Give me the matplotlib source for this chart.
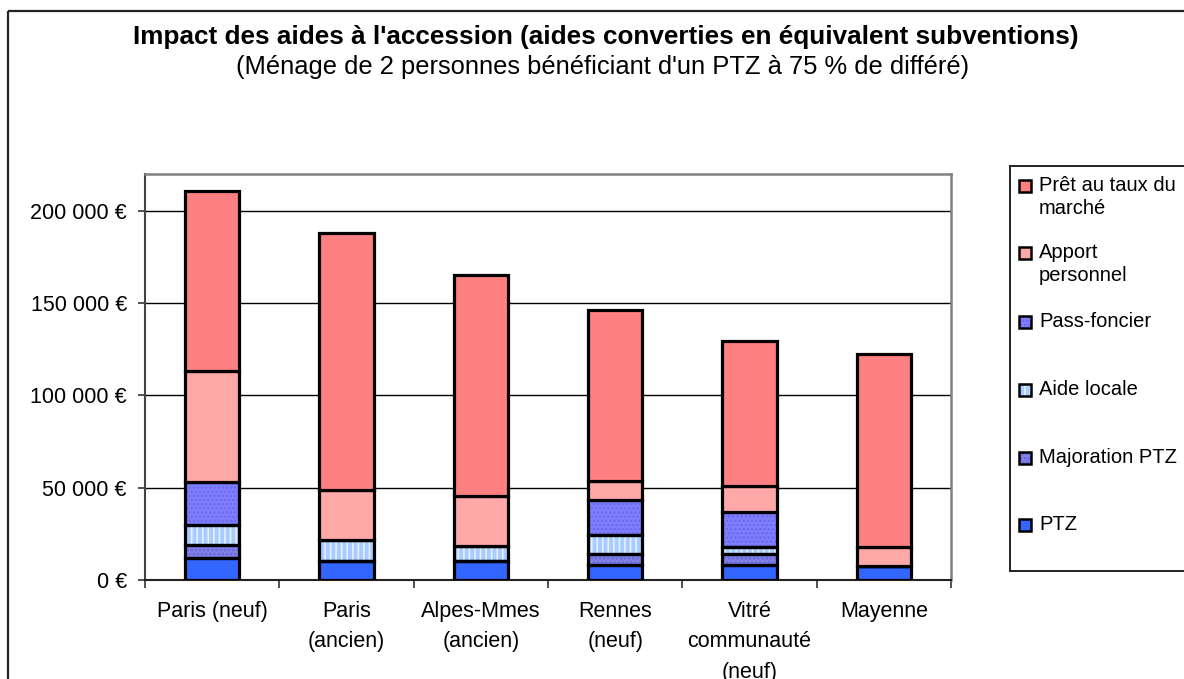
import matplotlib
matplotlib.use("Agg")
import matplotlib.pyplot as plt
from matplotlib.patches import Rectangle
import numpy as np

plt.rcParams['font.family'] = ['Liberation Sans', 'DejaVu Sans']

categories = ["Paris (neuf)", "Paris\n(ancien)", "Alpes-Mmes\n(ancien)", "Rennes\n(neuf)",
              "Vitré\ncommunauté\n(neuf)", "Mayenne"]
ptz = [12000, 10500, 10500, 8300, 8300, 7600]
majoration_ptz = [7000, 0, 0, 5600, 5600, 0]
aide_locale = [11000, 11400, 7900, 10700, 4200, 0]
pass_foncier = [23000, 0, 0, 18600, 18600, 0]
apport_personnel = [60000, 26700, 27000, 10300, 14100, 10500]
pret_marche = [98000, 139400, 119900, 92800, 78700, 104400]
yticks = [0, 50000, 100000, 150000, 200000]
ytick_labels = ["0 €", "50 000 €", "100 000 €", "150 000 €", "200 000 €"]

series = [
    ("PTZ", ptz, '#3366FF', None, None),
    ("Majoration PTZ", majoration_ptz, '#8080E8', '....', '#6A6AD8'),
    ("Aide locale", aide_locale, '#A8CCFF', '|||', '#E6F0FF'),
    ("Pass-foncier", pass_foncier, '#7E7EFF', '....', '#6A6AF0'),
    ("Apport personnel", apport_personnel, '#FFA8A8', None, None),
    ("Prêt au taux du marché", pret_marche, '#FF8080', None, None),
]
legend_labels = {"Prêt au taux du marché": "Prêt au taux du\nmarché",
                 "Apport personnel": "Apport\npersonnel"}

W, H = 1184, 679
fig = plt.figure(figsize=(W / 100, H / 100), dpi=100)
fig.patch.set_facecolor('white')

ax = fig.add_axes([145 / W, 1 - 580 / H, (951 - 145) / W, (580 - 174) / H])
plt.rcParams['hatch.linewidth'] = 1.2

x = np.arange(len(categories))
bottom = np.zeros(len(categories))
bw = 0.404
for name, vals, color, hatch, hcolor in series:
    vals = np.array(vals, dtype=float)
    if hatch:
        ax.bar(x, vals, bw, bottom=bottom, color=color, edgecolor=hcolor, hatch=hatch,
               linewidth=0, zorder=3)
        ax.bar(x, vals, bw, bottom=bottom, fill=False, edgecolor='black', linewidth=2.3, zorder=4)
    else:
        ax.bar(x, vals, bw, bottom=bottom, color=color, edgecolor='black', linewidth=2.3, zorder=4)
    bottom += vals

ax.set_xlim(-0.5, len(categories) - 0.5)
ax.set_ylim(0, 220000)
ax.set_yticks(yticks)
ax.set_yticklabels(ytick_labels, fontsize=15.5)
ax.yaxis.grid(True, color='black', linewidth=1.0, zorder=0)
ax.set_axisbelow(True)
ax.tick_params(axis='y', length=5, width=1.2, pad=8, color='#333333')

ax.set_xticks(x)
ax.set_xticklabels(categories, fontsize=15.5, linespacing=1.6, va='top')
ax.tick_params(axis='x', which='major', length=0, pad=15)
ax.set_xticks(np.arange(-0.5, len(categories)), minor=True)
ax.tick_params(axis='x', which='minor', length=6, width=1.2, color='#333333')

for s in ['top', 'right']:
    ax.spines[s].set_color('#808080')
    ax.spines[s].set_linewidth(1.8)
ax.spines['left'].set_color('#444444')
ax.spines['left'].set_linewidth(1.5)
ax.spines['bottom'].set_color('#222222')
ax.spines['bottom'].set_linewidth(1.5)

# overlay in pixel coordinates for title, frame and legend
ov = fig.add_axes([0, 0, 1, 1], zorder=10)
ov.set_xlim(0, W)
ov.set_ylim(H, 0)
ov.axis('off')
ov.patch.set_alpha(0)

ov.add_patch(Rectangle((8, 11), W + 20, H + 20, fill=False, edgecolor='#222222', linewidth=1.6))
ov.text(606, 37, "Impact des aides à l'accession (aides converties en équivalent subventions)",
        ha='center', va='center', fontsize=18.8, fontweight='bold')
ov.text(603, 67, "(Ménage de 2 personnes bénéficiant d'un PTZ à 75 % de différé)",
        ha='center', va='center', fontsize=18.4)

ov.add_patch(Rectangle((1010, 166), 250, 405, fill=True, facecolor='white',
                       edgecolor='#222222', linewidth=1.4))
legend_y = [186, 253, 322, 390, 458, 525]
for (name, vals, color, hatch, hcolor), yy in zip(series[::-1], legend_y):
    if hatch:
        ov.add_patch(Rectangle((1019, yy - 6), 12, 12, facecolor=color, edgecolor=hcolor,
                               hatch=hatch, linewidth=0))
        ov.add_patch(Rectangle((1019, yy - 6), 12, 12, fill=False, edgecolor='black', linewidth=1.8))
    else:
        ov.add_patch(Rectangle((1019, yy - 6), 12, 12, facecolor=color, edgecolor='black', linewidth=1.8))
    ov.text(1039, yy - 10, legend_labels.get(name, name), ha='left', va='top',
            fontsize=14.5, linespacing=1.25)

fig.savefig("out.png", dpi=100)
